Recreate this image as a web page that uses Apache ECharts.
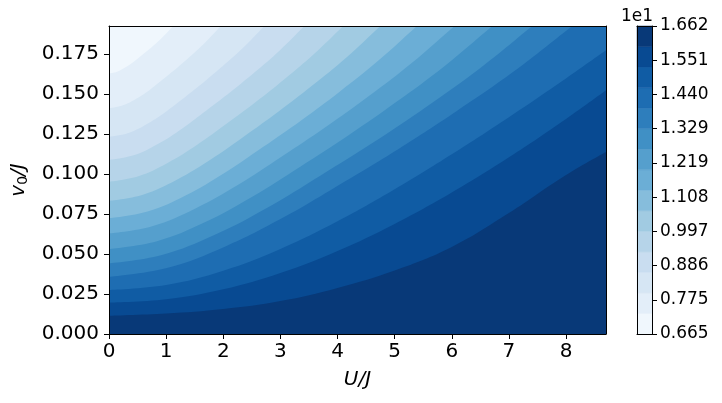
<!DOCTYPE html>
<html>
<head>
<meta charset="utf-8">
<script src="https://cdn.jsdelivr.net/npm/echarts@6/dist/echarts.min.js"></script>
<style>
  html, body { margin: 0; padding: 0; background: #fff; }
  #chart { width: 722px; height: 403px; }
</style>
</head>
<body>
<div id="chart"></div>
<script>
  // axis ranges and ticks
  const xMax = 8.7
  const yMax = 0.1925
  const xTicks = [0, 1, 2, 3, 4, 5, 6, 7, 8]
  const yTicks = [0, 0.025, 0.05, 0.075, 0.1, 0.125, 0.15, 0.175]

  // contour levels (x 1e1) and colorbar ticks
  const levels = [0.6650, 0.7315, 0.7979, 0.8644, 0.9309, 0.9973, 1.0638, 1.1303,
    1.1967, 1.2632, 1.3297, 1.3961, 1.4626, 1.5291, 1.5955, 1.6620]
  const cbTickValues = [0.665, 0.7758, 0.8866, 0.9973, 1.1081, 1.2189, 1.3297, 1.4404, 1.5512, 1.662]
  const cbTickLabels = ['0.665', '0.775', '0.886', '0.997', '1.108', '1.219', '1.329', '1.440', '1.551', '1.662']

  // contour boundaries [U/J, v0/J], from lightest to darkest
  const line01 = [[0, .1629], [.141, .1639], [.281, .1665], [.422, .1699], [.563, .1739], [.703, .1780], [.844, .1824], [.984, .1872], [1.125, .1925]]
  const line02 = [[0, .1411], [.245, .1429], [.490, .1473], [.734, .1532], [.979, .1601], [1.224, .1673], [1.469, .1750], [1.713, .1833], [1.958, .1925]]
  const line03 = [[0, .1233], [.34, .1257], [.68, .1316], [1.02, .1396], [1.36, .1489], [1.70, .1586], [2.04, .1690], [2.38, .1800], [2.72, .1925]]
  const line04 = [[0, .1088], [.428, .1117], [.855, .1188], [1.283, .1285], [1.71, .1398], [2.138, .1515], [2.565, .1640], [2.993, .1774], [3.42, .1925]]
  const line05 = [[0, .0952], [.513, .0986], [1.025, .1069], [1.538, .1181], [2.05, .1312], [2.563, .1448], [3.075, .1594], [3.588, .1750], [4.10, .1925]]
  const line06 = [[0, .0833], [.594, .0871], [1.188, .0964], [1.781, .1090], [2.375, .1237], [2.969, .1390], [3.563, .1554], [4.156, .1728], [4.75, .1925]]
  const line07 = [[0, .0723], [.674, .0765], [1.348, .0867], [2.021, .1006], [2.695, .1168], [3.369, .1336], [4.043, .1516], [4.716, .1709], [5.39, .1925]]
  const line08 = [[0, .0629], [.756, .0674], [1.513, .0785], [2.269, .0934], [3.025, .1109], [3.781, .1290], [4.538, .1484], [5.294, .1692], [6.05, .1925]]
  const line09 = [[0, .0531], [.839, .0580], [1.678, .0698], [2.516, .0859], [3.355, .1047], [4.194, .1242], [5.033, .1451], [5.871, .1674], [6.71, .1925]]
  const line10 = [[0, .0442], [.926, .0494], [1.853, .0620], [2.779, .0791], [3.705, .0991], [4.631, .1198], [5.558, .1421], [6.484, .1658], [7.41, .1925]]
  const line11 = [[0, .0358], [1.014, .0413], [2.028, .0546], [3.041, .0726], [4.055, .0938], [5.069, .1157], [6.083, .1392], [7.096, .1643], [8.11, .1925]]
  const line12 = [[0, .0275], [1, .0306], [2, .0395], [3, .0531], [4, .0704], [5, .0904], [6, .1123], [7, .1355], [8, .1597], [8.7, .1773]]
  const line13 = [[0, .0196], [1, .0217], [2, .0279], [3, .0381], [4, .0519], [5, .0688], [6, .0884], [7, .1104], [8, .1344], [8.7, .1523]]
  const line14 = [[0, .0114], [1, .0128], [2, .0156], [3, .0206], [4, .0288], [5, .0397], [6, .0544], [7, .0756], [8, .0994], [8.7, .1138]]
  const contours = [line01, line02, line03, line04, line05, line06, line07, line08,
    line09, line10, line11, line12, line13, line14]

  // matplotlib Blues, sampled at the middle of each band like contourf does
  const bluesStops = ['#f7fbff', '#deebf7', '#c6dbef', '#9ecae1', '#6baed6', '#4292c6', '#2171b5', '#08519c', '#08306b']
  function blues(t) {
    let p = t * (bluesStops.length - 1)
    let i = Math.min(Math.floor(p), bluesStops.length - 2)
    let f = p - i
    let a = echarts.color.parse(bluesStops[i])
    let b = echarts.color.parse(bluesStops[i + 1])
    let c = [0, 1, 2].map(k => Math.round(a[k] + (b[k] - a[k]) * f))
    return 'rgb(' + c.join(',') + ')'
  }
  const nBands = levels.length - 1
  const bandColors = []
  for (let i = 0; i < nBands; i++) {
    bandColors.push(blues((i + 0.5) / nBands))
  }

  const font = 'DejaVu Sans'
  const frame = { show: true, onZero: false, lineStyle: { color: '#000', width: 1 } }

  function frameAxis(gridIndex, position, min, max) {
    return {
      gridIndex: gridIndex, type: 'value', position: position, min: min, max: max, z: 10,
      axisLine: frame, axisTick: { show: false }, axisLabel: { show: false }, splitLine: { show: false }
    }
  }

  let series = contours.map((pts, k) => {
    let data = pts.slice()
    let last = data[data.length - 1]
    let prev = data[data.length - 2]
    // boundary leaves through the top: carry it on past the frame (clipped away)
    // so everything to its right falls in the darker band
    if (last[0] < xMax) {
      let ext = [last[0] + (last[0] - prev[0]) * 2, last[1] + (last[1] - prev[1]) * 2]
      data.push(ext)
      data.push([xMax + 1, ext[1]])
    }
    return {
      type: 'line',
      xAxisIndex: 0,
      yAxisIndex: 0,
      data: data,
      smooth: 0.4,
      symbol: 'none',
      silent: true,
      lineStyle: { width: 0 },
      areaStyle: { color: bandColors[k + 1], opacity: 1 }
    }
  })

  let cbData = []
  for (let i = 0; i < nBands; i++) {
    cbData.push([0.5, levels[i], levels[i + 1]])
  }
  series.push({
    type: 'custom',
    xAxisIndex: 2,
    yAxisIndex: 2,
    data: cbData,
    encode: { x: 0, y: [1, 2] },
    renderItem: function (params, api) {
      let lo = api.coord([0, api.value(1)])
      let hi = api.coord([1, api.value(2)])
      let color = bandColors[params.dataIndex]
      return {
        type: 'rect',
        shape: { x: lo[0], y: hi[1], width: hi[0] - lo[0], height: lo[1] - hi[1] },
        style: { fill: color, stroke: color, lineWidth: 0.5 }
      }
    }
  })

  let chart = echarts.init(document.getElementById('chart'), null, { renderer: 'canvas' })
  chart.setOption({
    animation: false,
    backgroundColor: '#fff',
    grid: [
      { left: 109, top: 26, width: 497, height: 308, show: true, backgroundColor: bandColors[0], borderWidth: 0 },
      { left: 637, top: 26, width: 15, height: 308 }
    ],
    xAxis: [
      {
        gridIndex: 0, type: 'value', min: 0, max: xMax, position: 'bottom', z: 10,
        axisLine: frame,
        axisTick: { show: true, length: 5, customValues: xTicks, lineStyle: { color: '#000' } },
        axisLabel: { customValues: xTicks, color: '#000', fontSize: 20, fontFamily: font, margin: 8 },
        splitLine: { show: false },
        name: 'U/J', nameLocation: 'middle', nameGap: 36,
        nameTextStyle: { color: '#000', fontSize: 20, fontFamily: font, fontStyle: 'italic' }
      },
      frameAxis(0, 'top', 0, xMax),
      frameAxis(1, 'bottom', 0, 1),
      frameAxis(1, 'top', 0, 1)
    ],
    yAxis: [
      {
        gridIndex: 0, type: 'value', min: 0, max: yMax, position: 'left', z: 10,
        axisLine: frame,
        axisTick: { show: true, length: 5, customValues: yTicks, lineStyle: { color: '#000' } },
        axisLabel: {
          customValues: yTicks, color: '#000', fontSize: 20, fontFamily: font, margin: 10,
          formatter: v => v.toFixed(3)
        },
        splitLine: { show: false },
        name: '{i|v}{s|0}{i|/J}', nameLocation: 'middle', nameGap: 79,
        nameTextStyle: {
          color: '#000', fontFamily: font,
          rich: {
            i: { fontSize: 20, fontStyle: 'italic', fontFamily: font, color: '#000' },
            s: { fontSize: 14, fontFamily: font, color: '#000', padding: [8, 0, 0, 0] }
          }
        }
      },
      frameAxis(0, 'right', 0, yMax),
      {
        gridIndex: 1, type: 'value', min: levels[0], max: levels[levels.length - 1], position: 'right', z: 10,
        axisLine: frame,
        axisTick: { show: true, length: 5, customValues: cbTickValues, lineStyle: { color: '#000' } },
        axisLabel: {
          customValues: cbTickValues, color: '#000', fontSize: 17, fontFamily: font, margin: 8,
          formatter: v => cbTickLabels[cbTickValues.indexOf(v)]
        },
        splitLine: { show: false }
      },
      frameAxis(1, 'left', levels[0], levels[levels.length - 1])
    ],
    graphic: [
      { type: 'text', left: 621, top: 8, style: { text: '1e1', fontSize: 17, fontFamily: font, fill: '#000' } }
    ],
    series: series
  })
</script>
</body>
</html>
